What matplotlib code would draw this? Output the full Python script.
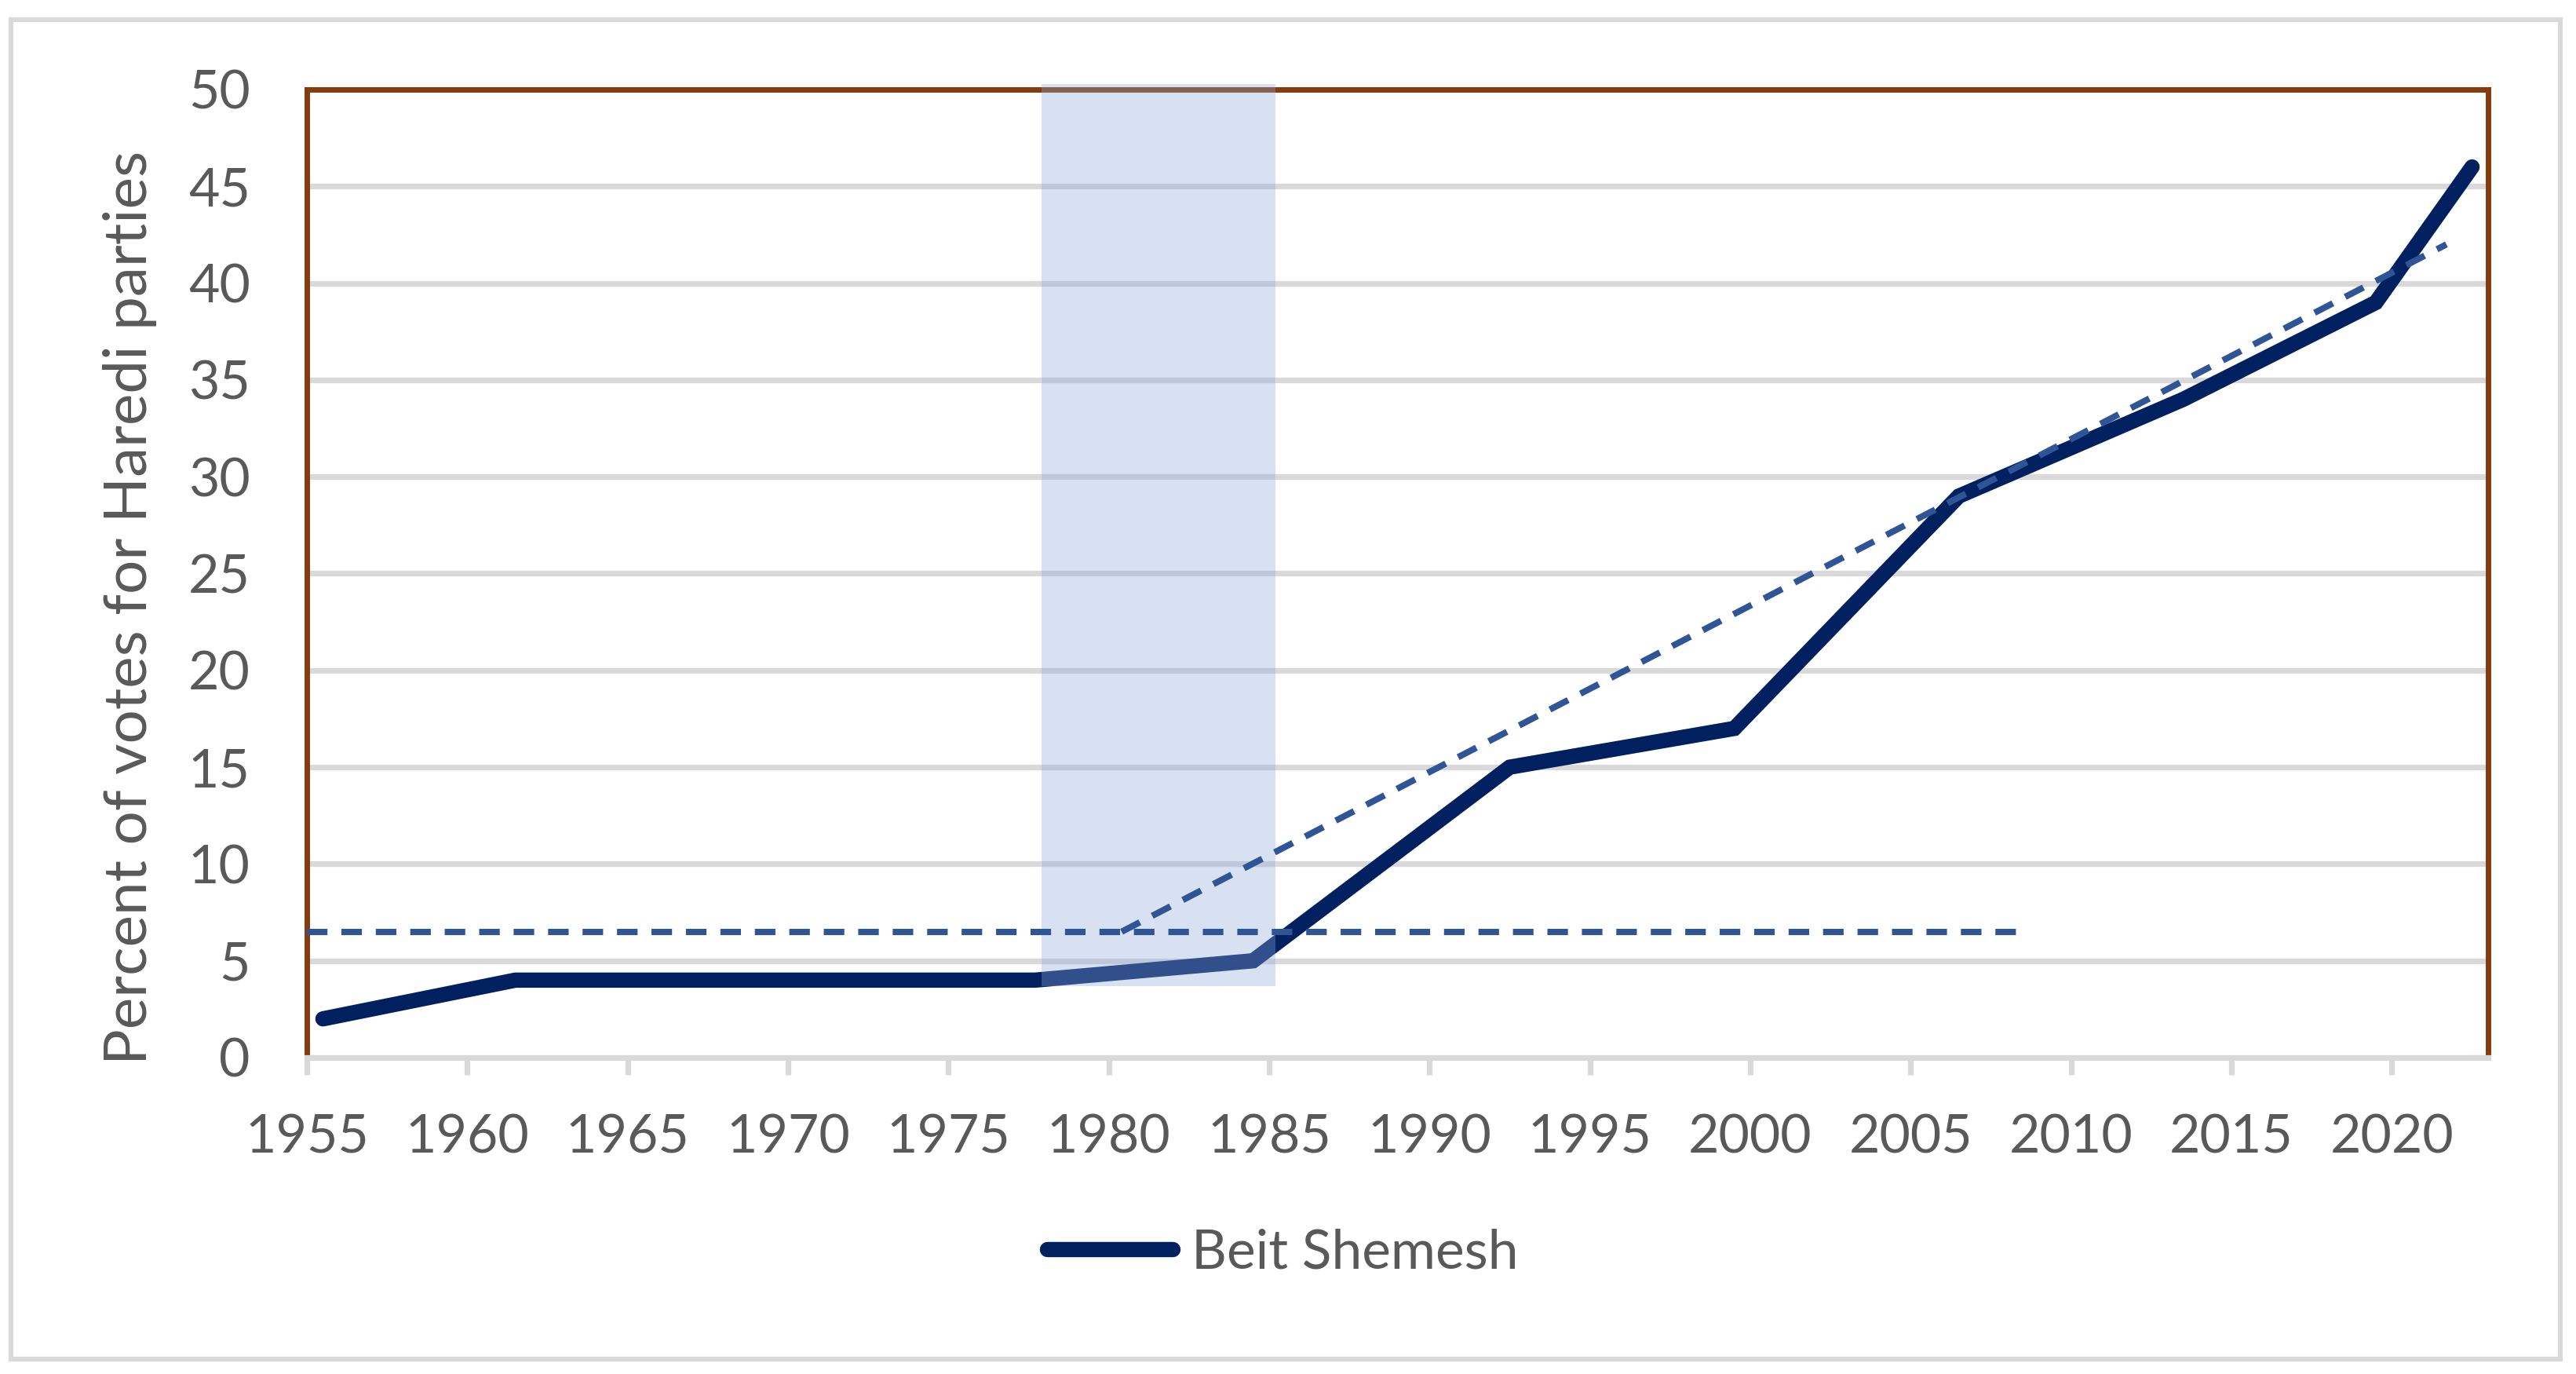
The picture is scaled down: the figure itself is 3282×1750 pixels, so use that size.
import matplotlib
matplotlib.use("Agg")
import matplotlib.pyplot as plt
from matplotlib.patches import Rectangle
from matplotlib.lines import Line2D

plt.rcParams['font.family'] = ['Lato', 'DejaVu Sans']

# election years (as placed on the date axis) and Haredi vote share in Beit Shemesh
years = [1955.5, 1961.5, 1977.7, 1984.5, 1992.5, 1999.5, 2006.5, 2013.5, 2019.5, 2022.5]
vote_pct = [2, 4, 4, 5, 15, 17, 29, 34, 39, 46]

# hand-drawn guide lines
baseline_x = [1955, 2008.3]
baseline_y = [6.5, 6.5]
trend_x = [1980.4, 2021.7]
trend_y = [6.5, 42.0]

# shaded period
shade_x = [1977.9, 1985.2]
shade_y = [3.7, 50.3]

x_ticks = list(range(1955, 2021, 5))
y_ticks = list(range(0, 51, 5))

text_col = '#595959'
grid_col = '#D9D9D9'
brown = '#843C0C'
navy = '#002060'
dash_col = '#2F5597'

fig = plt.figure(figsize=(16.41, 8.75), dpi=200)
ax = fig.add_axes([0.11913, 0.23029, 0.96588 - 0.11913, 0.93486 - 0.23029])

ax.plot(years, vote_pct, color=navy, lw=7.0, solid_capstyle='round',
        solid_joinstyle='miter', zorder=2, label='Beit Shemesh')

shade = Rectangle((shade_x[0], shade_y[0]), shade_x[1] - shade_x[0], shade_y[1] - shade_y[0],
                  facecolor='#8FAADC', alpha=0.35, edgecolor='none', zorder=3, clip_on=False)
ax.add_patch(shade)

ax.plot(baseline_x, baseline_y, color=dash_col, lw=2.9, dashes=(3.25, 2.2), zorder=4)
ax.plot(trend_x, trend_y, color=dash_col, lw=2.9, dashes=(3.25, 2.2), zorder=4)

ax.set_xlim(1955, 2023.0)
ax.set_ylim(0, 50)
ax.set_xticks(x_ticks)
ax.set_yticks(y_ticks)

ax.yaxis.grid(True, color=grid_col, lw=2.6, zorder=0)
ax.set_axisbelow(True)

for side in ['left', 'top', 'right']:
    ax.spines[side].set_color(brown)
    ax.spines[side].set_linewidth(2.5)
ax.spines['bottom'].set_color(grid_col)
ax.spines['bottom'].set_linewidth(2.6)

ax.tick_params(axis='x', direction='out', length=7.9, width=2.6, color=grid_col,
               labelsize=24.5, labelcolor=text_col, pad=18)
ax.tick_params(axis='y', length=0, labelsize=24.5, labelcolor=text_col, pad=26)

fig.text(0.0505, 0.558, 'Percent of votes for Haredi parties', rotation=90,
         ha='center', va='center', fontsize=27.5, color=text_col)

handle = Line2D([], [], color=navy, lw=7.0, solid_capstyle='round')
fig.legend([handle], ['Beit Shemesh'], loc='center', bbox_to_anchor=(0.498, 0.088),
           frameon=False, fontsize=25, labelcolor=text_col, handlelength=2.3,
           handletextpad=0.35, borderpad=0)

border = Rectangle((0.00427, 0.01086), 0.99391 - 0.00427, 0.98571 - 0.01086,
                   transform=fig.transFigure, fill=False, edgecolor=grid_col, lw=2.2)
fig.patches.append(border)

fig.savefig('out.png', dpi=200, facecolor='white')
